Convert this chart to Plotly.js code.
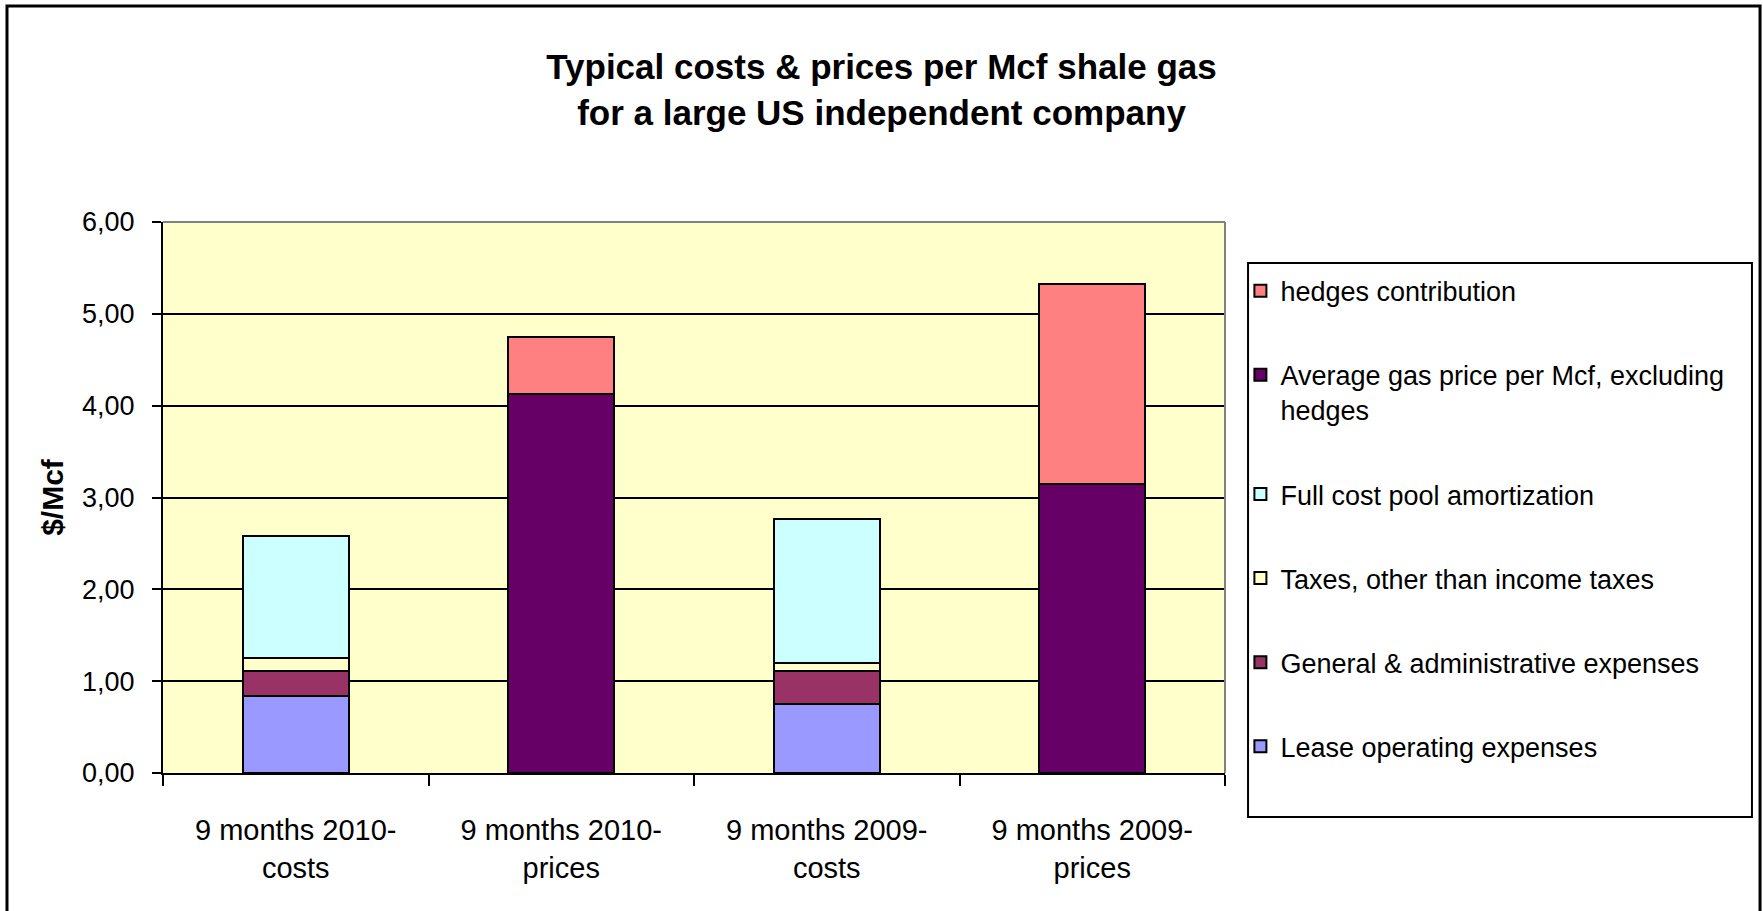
<!DOCTYPE html>
<html>
<head>
<meta charset="utf-8">
<script src="https://cdn.plot.ly/plotly-3.0.1.min.js"></script>
<style>
  html, body { margin: 0; padding: 0; background: #ffffff; }
  #chart { width: 1763px; height: 911px; }
</style>
</head>
<body>
<div id="chart"></div>
<script>
// ---- data ----
const categories = [
  "9 months 2010-<br>costs",
  "9 months 2010-<br>prices",
  "9 months 2009-<br>costs",
  "9 months 2009-<br>prices"
];
const leaseOperating   = [0.84, null, 0.75, null];
const generalAdmin     = [0.27, null, 0.36, null];
const taxesOther       = [0.14, null, 0.09, null];
const fullCostPool     = [1.33, null, 1.57, null];
const avgGasPrice      = [null, 4.13, null, 3.15];
const hedgesContrib    = [null, 0.62, null, 2.17];

const seriesNames = [
  "Lease operating expenses",
  "General & administrative expenses",
  "Taxes, other than income taxes",
  "Full cost pool amortization",
  "Average gas price per Mcf, excluding<br>hedges",
  "hedges contribution"
];
const seriesValues = [leaseOperating, generalAdmin, taxesOther, fullCostPool, avgGasPrice, hedgesContrib];
const seriesColors = ["#9999FF", "#993366", "#FFFFCC", "#CCFFFF", "#660066", "#FF8080"];
const yTicks = [0, 1, 2, 3, 4, 5, 6];

const FONT = "Liberation Sans, Arial, sans-serif";

const traces = seriesNames.map((name, i) => ({
  type: "bar",
  name: name,
  x: categories,
  y: seriesValues[i],
  legendgroup: "g" + i,
  legendrank: 100 - i,
  marker: { color: seriesColors[i], line: { color: "#000000", width: 2 } },
  hoverinfo: "x+y+name"
}));

// legend frame position (paper coords of plot area)
const legendBox = { x0: 1.0217, x1: 1.4962, y0: -0.0799, y1: 0.9256 };

const layout = {
  width: 1763,
  height: 911,
  paper_bgcolor: "#ffffff",
  plot_bgcolor: "#FFFFCC",
  separators: ",.",
  barmode: "stack",
  bargap: 0.6,
  font: { family: FONT, color: "#000000", size: 27 },
  margin: { l: 163, r: 538, t: 222, b: 138, autoexpand: false },
  title: {
    text: "Typical costs & prices per Mcf shale gas<br>for a large US independent company",
    font: { family: FONT, size: 35, color: "#000000", weight: "bold" },
    x: 0.5, xref: "container", xanchor: "center",
    y: 1 - 79 / 911, yref: "container", yanchor: "top"
  },
  xaxis: {
    type: "category",
    showline: true, linecolor: "#000000", linewidth: 2,
    ticks: "outside", ticklen: 11, tickwidth: 2, tickcolor: "#000000",
    tickson: "boundaries",
    showgrid: false, zeroline: false,
    ticklabelstandoff: 30,
    tickfont: { family: FONT, size: 29, color: "#000000" }
  },
  yaxis: {
    range: [0, 6],
    tickvals: yTicks,
    tickformat: ".2f",
    showline: true, linecolor: "#000000", linewidth: 2,
    ticks: "outside", ticklen: 9, tickwidth: 2, tickcolor: "#000000",
    showgrid: true, gridcolor: "#000000", gridwidth: 2,
    zeroline: false,
    ticklabelstandoff: 12,
    tickfont: { family: FONT, size: 27, color: "#000000" },
    title: {
      text: "$/Mcf",
      font: { family: FONT, size: 30, color: "#000000", weight: "bold" },
      standoff: 10
    }
  },
  legend: {
    x: 1.0145, xanchor: "left",
    y: 0.919, yanchor: "top",
    bgcolor: "rgba(0,0,0,0)",
    borderwidth: 0,
    traceorder: "grouped",
    tracegroupgap: 46,
    font: { family: FONT, size: 27, color: "#000000" },
    valign: "top"
  },
  shapes: [
    // plot area top and right border (gray)
    { type: "line", xref: "paper", yref: "paper", x0: 0, x1: 1, y0: 1, y1: 1,
      line: { color: "#808080", width: 2 } },
    { type: "line", xref: "paper", yref: "paper", x0: 1, x1: 1, y0: 0, y1: 1,
      line: { color: "#808080", width: 2 } },
    // legend frame
    { type: "rect", xref: "paper", yref: "paper",
      x0: legendBox.x0, x1: legendBox.x1, y0: legendBox.y0, y1: legendBox.y1,
      line: { color: "#000000", width: 2 }, fillcolor: "#ffffff", layer: "below" },
    // outer chart frame
    { type: "rect", xref: "paper", yref: "paper",
      x0: -0.1469, x1: 1.5038, y0: -0.27, y1: 1.392,
      line: { color: "#000000", width: 3 }, fillcolor: "rgba(0,0,0,0)" }
  ]
};

Plotly.newPlot("chart", traces, layout, { displayModeBar: false, responsive: false });
</script>
</body>
</html>
